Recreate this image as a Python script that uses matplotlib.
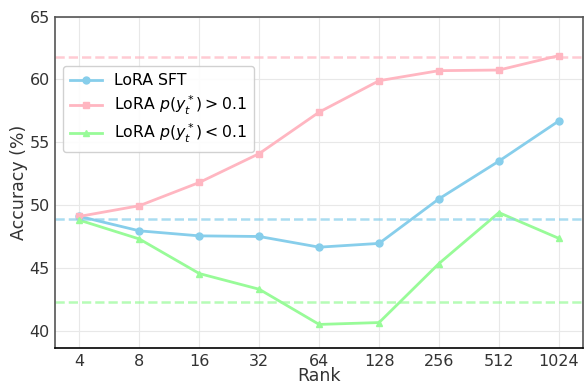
import matplotlib

matplotlib.use("Agg")
import matplotlib.pyplot as plt
import numpy as np

ranks = ["4", "8", "16", "32", "64", "128", "256", "512", "1024"]
sft = [49.1, 47.95, 47.55, 47.5, 46.65, 46.95, 50.5, 53.5, 56.7]
high_p = [49.1, 49.95, 51.8, 54.1, 57.4, 59.9, 60.7, 60.75, 61.9]
low_p = [48.8, 47.3, 44.55, 43.3, 40.5, 40.65, 45.35, 49.4, 47.35]
baselines = {"sft": 48.9, "high": 61.75, "low": 42.3}

c_sft = "#87CEEB"
c_high = "#FFB6C1"
c_low = "#98FB98"

fig, ax = plt.subplots(figsize=(5.84, 3.87), dpi=100)
x = np.arange(len(ranks))

ax.plot(x, sft, color=c_sft, marker="o", markersize=5, linewidth=2, label="LoRA SFT")
ax.plot(x, high_p, color=c_high, marker="s", markersize=5, linewidth=2,
        label=r"LoRA $p(y_t^*) > 0.1$")
ax.plot(x, low_p, color=c_low, marker="^", markersize=5, linewidth=2,
        label=r"LoRA $p(y_t^*) < 0.1$")

ax.axhline(baselines["high"], color=c_high, linestyle="--", linewidth=1.8, alpha=0.7)
ax.axhline(baselines["sft"], color=c_sft, linestyle="--", linewidth=1.8, alpha=0.7)
ax.axhline(baselines["low"], color=c_low, linestyle="--", linewidth=1.8, alpha=0.7)

ax.set_xticks(x)
ax.set_xticklabels(ranks)
ax.set_ylim(38.6, 65)
ax.set_yticks([40, 45, 50, 55, 60, 65])
ax.tick_params(axis="both", labelsize=11.5, colors="#333333", length=0, pad=4)
ax.set_xlabel("Rank", fontsize=12.5, color="#333333", labelpad=-1)
ax.set_ylabel("Accuracy (%)", fontsize=12.5, color="#333333", labelpad=1)
ax.grid(True, color="#e8e8e8", linewidth=0.8)
ax.set_axisbelow(True)

for side in ["left", "top", "right"]:
    ax.spines[side].set_color("#555555")
    ax.spines[side].set_linewidth(1.2)
ax.spines["bottom"].set_color("black")
ax.spines["bottom"].set_linewidth(1.2)

ax.legend(loc="upper left", bbox_to_anchor=(0.0, 0.875), fontsize=11.3,
          frameon=True, framealpha=0.9, edgecolor="#cccccc", fancybox=True,
          labelspacing=0.35, borderpad=0.45)

fig.subplots_adjust(left=0.095, right=0.998, top=0.957, bottom=0.1)
fig.savefig("out.png", dpi=100)
